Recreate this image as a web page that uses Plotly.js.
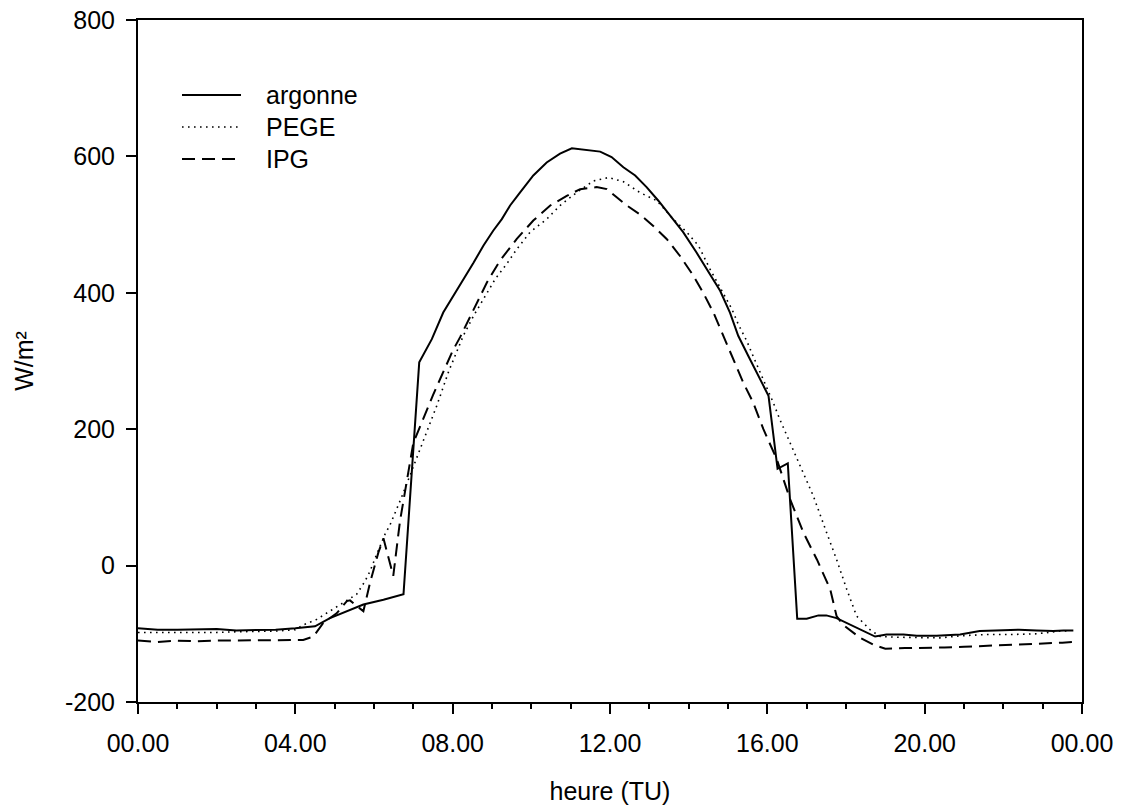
<!DOCTYPE html>
<html>
<head>
<meta charset="utf-8">
<script src="https://cdn.plot.ly/plotly-3.0.1.min.js"></script>
<style>html,body{margin:0;padding:0;background:#fff;}#chart{width:1127px;height:807px;}</style>
</head>
<body>
<div id="chart"></div>
<script>
// Hours (TU) and irradiance values (W/m²)
const argonneHours = [0,0.5,1,1.5,2,2.5,3,3.5,4,4.5,4.88,5.3,5.73,6.24,6.75,7.15,7.47,7.76,8.02,8.27,8.53,8.78,9.03,9.25,9.46,9.71,10.05,10.39,10.73,11.03,11.32,11.75,12.04,12.34,12.64,12.93,13.23,13.53,13.86,14.2,14.46,14.8,15.05,15.26,15.52,15.81,16.03,16.26,16.52,16.76,17.0,17.3,17.5,17.76,18.19,18.74,19.03,19.46,19.8,20.3,20.9,21.4,21.8,22.4,22.85,23.27,23.53,23.78];
const argonneValues = [-92,-94,-94,-93,-93,-95,-95,-94,-92,-89,-77,-67,-57,-50,-42,298,332,371,395,420,444,469,491,508,528,547,572,591,604,612,610,607,599,584,572,555,535,513,489,459,435,403,371,337,307,275,249,142,150,-78,-78,-73,-73,-77,-89,-104,-101,-101,-103,-103,-101,-96,-95,-94,-95,-96,-95,-95];

const pegeHours = [0,0.5,1,1.5,2,2.5,3,3.5,4,4.2,4.54,4.88,5.22,5.56,5.77,5.9,6.03,6.15,6.28,6.41,6.7,7.0,7.3,7.6,7.9,8.27,8.53,8.82,9.08,9.37,9.63,9.97,10.39,10.73,11.15,11.58,11.96,12.34,12.76,13.19,13.61,13.95,14.25,14.54,14.88,15.1,15.26,15.48,15.64,15.81,15.98,16.15,16.32,16.49,16.83,17.17,17.51,17.76,18.02,18.27,18.61,18.87,19.29,19.88,20.39,20.9,21.58,22.25,22.85,23.44,23.7];
const pegeValues = [-98,-98,-99,-98,-98,-97,-97,-96,-94,-87,-79,-67,-55,-42,-23,-8,11,28,46,60,100,145,190,235,285,337,366,395,420,442,464,489,508,528,547,564,569,563,547,535,508,489,469,435,400,376,354,329,307,285,261,239,214,192,146,102,48,9,-35,-74,-94,-104,-105,-106,-106,-103,-101,-101,-100,-96,-96];

const ipgHours = [0,0.5,1,1.5,2,2.5,3,3.5,4,4.2,4.46,4.71,5.05,5.31,5.39,5.73,5.9,6.11,6.24,6.49,6.66,7.0,7.5,8.0,8.19,8.53,8.87,9.2,9.63,10.05,10.48,10.9,11.24,11.66,11.92,12.17,12.43,12.76,13.1,13.44,13.78,14.12,14.37,14.63,14.88,15.13,15.39,15.64,15.9,16.24,16.58,16.92,17.26,17.6,17.76,17.93,18.36,18.7,19.0,19.5,20.0,20.5,21.0,21.5,22.0,22.5,23.0,23.5,23.78];
const ipgValues = [-110,-112,-110,-111,-110,-110,-110,-110,-110,-109,-104,-84,-70,-52,-51,-67,-25,19,40,-15,65,180,250,315,335,376,415,447,479,506,528,542,552,555,552,540,528,515,498,479,454,425,400,371,337,302,268,239,200,156,97,48,9,-35,-74,-87,-106,-116,-122,-121,-121,-120,-119,-118,-116,-115,-115,-113,-112];

const seriesNames = ["argonne", "PEGE", "IPG"];
const xTickVals = [0,4,8,12,16,20,24];
const xTickText = ["00.00","04.00","08.00","12.00","16.00","20.00","00.00"];
const yTickVals = [-200,0,200,400,600,800];
const yTickText = ["-200","0","200","400","600","800"];

const FONT = "Liberation Sans, Arial, sans-serif";
const FS = 25;
const styles = [
  {color:"#000", width:2, dash:"solid"},
  {color:"#000", width:1.6, dash:"1.6px,4.4px"},
  {color:"#000", width:2, dash:"13px,7px"}
];
const xs = [argonneHours, pegeHours, ipgHours];
const ys = [argonneValues, pegeValues, ipgValues];

const traces = seriesNames.map((n,i)=>({
  type:"scatter", mode:"lines", name:n, x:xs[i], y:ys[i],
  line:styles[i], showlegend:false, hoverinfo:"x+y"
}));

// custom legend (positions in paper coordinates)
const L=138, R=1082, T=20, B=702;
const px = v => (v-L)/(R-L);
const py = v => (B-v)/(B-T);
const legendRows = [95, 127, 159];
const shapes = [];
const annotations = [];
seriesNames.forEach((n,i)=>{
  shapes.push({type:"line", xref:"paper", yref:"paper", x0:px(182), x1:px(241), y0:py(legendRows[i]), y1:py(legendRows[i]), line:styles[i]});
  annotations.push({xref:"paper", yref:"paper", x:px(264), y:py(legendRows[i]), xanchor:"left", yanchor:"middle", text:n, showarrow:false, font:{family:FONT, size:FS, color:"#000"}});
});

const layout = {
  width:1127, height:807,
  margin:{l:L, r:1127-R, t:T, b:807-B, pad:0},
  paper_bgcolor:"#fff", plot_bgcolor:"#fff",
  font:{family:FONT, size:FS, color:"#000"},
  showlegend:false,
  xaxis:{
    range:[0,24], tickmode:"array", tickvals:xTickVals, ticktext:xTickText,
    ticks:"outside", ticklen:10, tickwidth:2, tickcolor:"#000",
    minor:{tickmode:"linear", tick0:0, dtick:1, ticks:"outside", ticklen:5, tickwidth:2, tickcolor:"#000"},
    showline:true, linecolor:"#000", linewidth:2, mirror:true,
    showgrid:false, zeroline:false, ticklabelstandoff:8,
    tickfont:{family:FONT, size:FS, color:"#000"},
    title:{text:"heure (TU)", font:{family:FONT, size:FS, color:"#000"}, standoff:26}
  },
  yaxis:{
    range:[-200,800], tickmode:"array", tickvals:yTickVals, ticktext:yTickText,
    ticks:"outside", ticklen:10, tickwidth:2, tickcolor:"#000",
    showline:true, linecolor:"#000", linewidth:2, mirror:true,
    showgrid:false, zeroline:false, ticklabelstandoff:6,
    tickfont:{family:FONT, size:FS, color:"#000"},
    title:{text:"W/m²", font:{family:FONT, size:FS, color:"#000"}, standoff:24}
  },
  shapes:shapes, annotations:annotations
};

Plotly.newPlot("chart", traces, layout, {displayModeBar:false, staticPlot:true});
</script>
</body>
</html>
